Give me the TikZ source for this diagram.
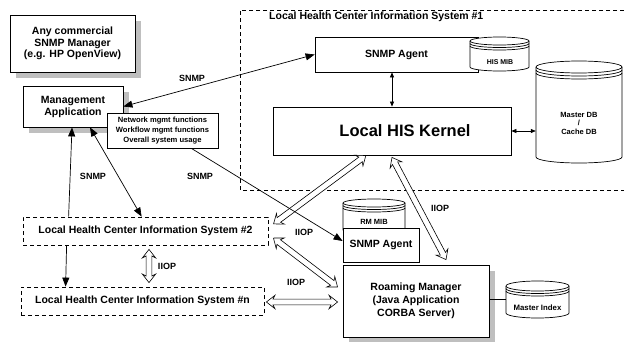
\documentclass[tikz,border=0pt]{standalone}
\usepackage{fontspec}
\setmainfont{Liberation Sans}
\usetikzlibrary{arrows.meta,shapes.arrows,calc}
\definecolor{shadowgray}{gray}{0.75}
\tikzset{
  box/.style={draw, line width=0.8pt, fill=white, inner sep=0pt, align=center,
    font=\bfseries\fontsize{10.5}{12}\selectfont},
  shadowfill/.style={fill=shadowgray},
  dbox/.style={box, dash pattern=on 4pt off 3pt},
  lbl/.style={font=\bfseries\fontsize{9}{10}\selectfont, inner sep=0pt},
  small/.style={font=\bfseries\fontsize{7.5}{9}\selectfont, inner sep=0pt, align=center},
  arr/.style={line width=0.7pt, -{Triangle[length=9pt,width=7pt]}},
  barr/.style={line width=0.7pt, {Triangle[length=9pt,width=7pt]}-{Triangle[length=9pt,width=7pt]}},
  sarr/.style={line width=0.7pt, {Triangle[length=5pt,width=4pt]}-{Triangle[length=5pt,width=4pt]}},
  harrow/.style={shape=double arrow, draw, fill=white, line width=0.6pt, inner xsep=0pt,
    inner ysep=2.6pt, double arrow head extend=3.8pt, double arrow tip angle=76,
    double arrow head indent=2pt},
  cylline/.style={draw, line width=0.7pt, fill=white},
}
\newcommand\hollowarr[2]{%
  \path let \p1=(#1), \p2=(#2), \n1={atan2(\y2-\y1,\x2-\x1)}, \n2={veclen(\x2-\x1,\y2-\y1)} in
    node[harrow, minimum height=\n2, rotate=\n1] at ($(\p1)!0.5!(\p2)$) {};}
\newcommand\dbcyl[7]{% name x1 y1 x2 y2 ry gap
  \pgfmathsetmacro\cylcx{(#2+#4)/2}\pgfmathsetmacro\cylrx{(#4-#2)/2}%
  \pgfmathsetmacro\cylcy{(#3+#5)/2}%
  \path[cylline] (#2,#3+#6) -- (#2,#5-#6) arc[start angle=180,end angle=0,x radius=\cylrx,y radius=#6] -- (#4,#3+#6);
  \path[cylline] (\cylcx,#3+#6) ellipse[x radius=\cylrx,y radius=#6];
  \draw[line width=0.7pt] (#2,#3+#6+#7) arc[start angle=180,end angle=0,x radius=\cylrx,y radius=#6];
  \draw[line width=0.7pt] (#2,#3+#6+2*#7) arc[start angle=180,end angle=0,x radius=\cylrx,y radius=#6];
  \node[minimum width=#4pt-#2pt, minimum height=#5pt-#3pt, inner sep=0pt] (#1) at (\cylcx,\cylcy) {};
}
\begin{document}
\begin{tikzpicture}[x=1pt,y=-1pt]
\useasboundingbox (0,0) rectangle (624,343);
% Local HCIS #1 region
\draw[dash pattern=on 4pt off 3pt, line width=0.8pt] (624,10) -- (240,10) -- (240,190) -- (624,190);
\node[font=\bfseries\fontsize{10.5}{12}\selectfont, inner sep=0pt, anchor=west] (t1) at (269,17) {Local Health Center Information System \#1};

% box shadows
\fill[shadowfill] (16,21) rectangle (141,78);
\fill[shadowfill] (29,92) rectangle (129,133);
\fill[shadowfill] (349,271) rectangle (495,342);

% boxes
\node[box, minimum width=125pt, minimum height=57pt, font=\bfseries\fontsize{10.5}{11.5}\selectfont] (any) at (72.5,43.5) {Any commercial\\SNMP Manager\\(e.g. HP OpenView)};
\node[box, minimum width=100pt, minimum height=41pt] (mgmt) at (73,106.5) {Management\\Application};
\node[box, minimum width=111pt, minimum height=35pt, font=\bfseries\fontsize{7.6}{10.3}\selectfont] (func) at (162.5,130.5) {Network mgmt functions\\Workflow mgmt functions\\Overall system usage};

\node[box, minimum width=163pt, minimum height=35pt] (agent1) at (396.5,54.5) {SNMP Agent};
\dbcyl{hismib}{470}{37}{529}{71}{4}{2.5}
\node[small, font=\bfseries\fontsize{7}{8}\selectfont] (hismibt) at (500,62) {HIS MIB};

\node[box, minimum width=238pt, minimum height=48pt] (kernel) at (392,131) {};
\node[inner sep=0pt, font=\bfseries\fontsize{16.5}{18}\selectfont] (kernelt) at (405,131) {Local HIS Kernel};

\dbcyl{masterdb}{536}{61}{622}{163}{6}{3}
\node[small, font=\bfseries\fontsize{7.5}{8.5}\selectfont] (mdbt) at (579,123) {Master DB\\/\\Cache DB};

\node[dbox, minimum width=245pt, minimum height=28pt] (lhcis2) at (145.5,231) {Local Health Center Information System \#2};
\node[dbox, minimum width=243pt, minimum height=28pt] (lhcisn) at (142.5,301) {Local Health Center Information System \#n};

\dbcyl{rmmib}{343}{199}{405}{234}{4}{2.5}
\node[small, font=\bfseries\fontsize{7.5}{9}\selectfont] (rmmibt) at (374,222) {RM MIB};
\node[box, minimum width=76pt, minimum height=34pt] (agent2) at (381,245) {SNMP Agent};

\node[box, minimum width=146pt, minimum height=72pt, font=\bfseries\fontsize{10.5}{13}\selectfont] (rm) at (416,301) {Roaming Manager\\(Java Application\\CORBA Server)};
\dbcyl{mi}{506}{281}{569}{318}{5}{2.5}
\node[small, font=\bfseries\fontsize{7.8}{9}\selectfont] (mit) at (537.5,308) {Master Index};

% hollow IIOP arrows
\hollowarr{[xshift=5pt,yshift=7pt]lhcis2.east}{[xshift=-26pt]kernel.south}
\hollowarr{[yshift=-2pt]kernel.south}{[xshift=30pt,yshift=5pt]rm.north}
\hollowarr{[xshift=5pt,yshift=-7pt]lhcis2.east}{[xshift=-5pt,yshift=14pt]rm.west}
\hollowarr{[xshift=2pt,yshift=-1pt]lhcisn.east}{[xshift=-5pt,yshift=-1pt]rm.west}
\hollowarr{[xshift=3.5pt,yshift=-4pt]lhcis2.south}{[xshift=6.5pt,yshift=4pt]lhcisn.north}

% line connectors
\draw[barr] (mgmt.east) -- (agent1.west);
\draw[arr] ([xshift=46pt]lhcis2.north west) -- ([xshift=-1pt]mgmt.south);
\draw[barr] ([xshift=17pt]mgmt.south) -- ([xshift=119pt]lhcis2.north west);
\draw[arr] ([xshift=44pt]lhcis2.south west) -- ([xshift=45pt]lhcisn.north west);
\draw[arr] ([xshift=-27pt]func.south east) -- ([yshift=4pt]agent2.west);
\draw[sarr] (kernel.north) -- (kernel.north |- agent1.south);
\draw[sarr] (kernel.east) -- (masterdb.west |- kernel.east);
\draw[line width=0.7pt] (mi.west -| rm.east) -- (mi.west);

% labels
\node[lbl] (l1) at (192,78) {SNMP};
\node[lbl] (l2) at (93,176) {SNMP};
\node[lbl] (l3) at (200,176) {SNMP};
\node[lbl] (l4) at (167,266) {IIOP};
\node[lbl] (l5) at (304,232) {IIOP};
\node[lbl] (l6) at (296,282) {IIOP};
\node[lbl] (l7) at (440,208) {IIOP};
\end{tikzpicture}
\end{document}
